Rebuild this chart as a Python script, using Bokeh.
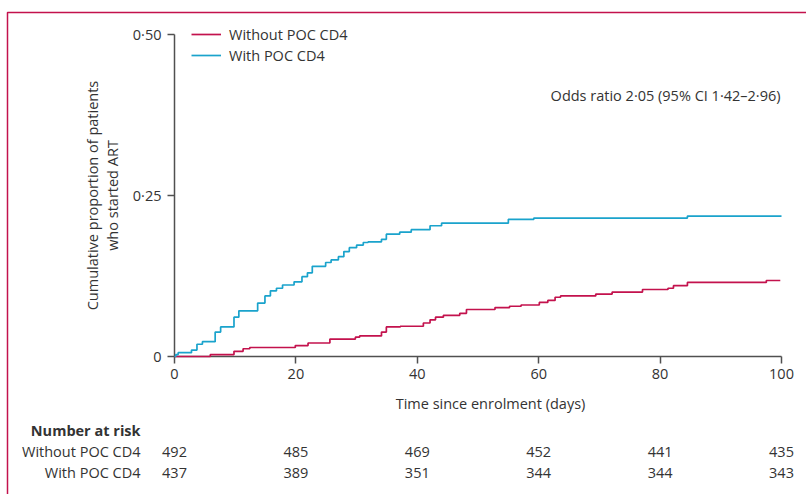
import math
from bokeh.plotting import figure
from bokeh.models import (ColumnDataSource, Label, LabelSet, Legend, LegendItem,
                          FixedTicker, CustomJSTickFormatter, BoxAnnotation, Range1d)
from bokeh.core.properties import value
from bokeh.embed import file_html
from bokeh.resources import INLINE

# ---------------- data ----------------
without_days = [0, 5.9, 9.8, 11.3, 12.4, 19.9, 22.0, 25.6, 29.8, 30.5, 34.1, 34.9, 37.2,
                41.0, 42.1, 43.0, 44.3, 47.0, 48.1, 52.8, 55.2, 57.1, 60.1, 61.5, 62.7,
                63.6, 69.4, 72.1, 77.1, 81.3, 82.2, 84.5, 97.5, 99.8]
without_prop = [0, 0.003, 0.008, 0.012, 0.014, 0.017, 0.021, 0.027, 0.030, 0.032, 0.038,
                0.046, 0.047, 0.052, 0.057, 0.061, 0.064, 0.067, 0.073, 0.076, 0.078,
                0.080, 0.084, 0.087, 0.092, 0.094, 0.097, 0.100, 0.104, 0.106, 0.110,
                0.115, 0.118, 0.118]

with_days = [0, 0.2, 0.6, 2.8, 3.7, 4.6, 6.7, 7.6, 9.8, 10.6, 13.7, 14.9, 15.8, 16.8,
             17.8, 19.7, 21.0, 21.9, 22.7, 24.9, 25.8, 27.0, 27.9, 28.8, 30.0, 31.1,
             31.9, 34.1, 34.9, 37.1, 39.0, 42.1, 44.0, 55.0, 59.2, 84.5, 100]
with_prop = [0, 0.003, 0.006, 0.010, 0.019, 0.023, 0.038, 0.046, 0.061, 0.071, 0.083,
             0.094, 0.102, 0.106, 0.111, 0.116, 0.124, 0.130, 0.140, 0.146, 0.150,
             0.155, 0.163, 0.169, 0.173, 0.177, 0.178, 0.182, 0.190, 0.193, 0.197,
             0.203, 0.207, 0.213, 0.215, 0.218, 0.218]

x_ticks = [0, 20, 40, 60, 80, 100]
y_ticks = [0, 0.25, 0.5]
risk_without = [492, 485, 469, 452, 441, 435]
risk_with = [437, 389, 351, 344, 344, 343]

series_names = ["Without POC CD4", "With POC CD4"]
annotation_text = "Odds ratio 2\u00b705 (95% CI 1\u00b742\u20132\u00b796)"
x_title = "Time since enrolment (days)"
y_title = ["Cumulative proportion of patients", "who started ART"]

# ---------------- layout / style ----------------
W, H = 806, 494
AX_X0, AX_X1 = 174, 781      # pixel position of day 0 / day 100
AX_Y0, AX_Y1 = 356, 34       # pixel position of 0 / 0.5
PXD = (AX_X1 - AX_X0) / 100.0
PXU = (AX_Y0 - AX_Y1) / 0.5

def dx(px):
    return (px - AX_X0) / PXD

def dy(py):
    return (AX_Y0 - py) / PXU

RED = "#c3124d"
BLUE = "#1aa3cc"
TXT = "#333333"
AX = "#505050"
FONT = "Open Sans"
FS = "14.5px"

p = figure(width=W, height=H, output_backend="svg", toolbar_location=None,
           x_range=Range1d(dx(0), dx(W)), y_range=Range1d(dy(H), dy(0)),
           min_border=0, min_border_left=0, min_border_right=0,
           min_border_top=0, min_border_bottom=0)
p.outline_line_color = None
p.xgrid.visible = False
p.ygrid.visible = False
p.background_fill_color = "white"
p.border_fill_color = "white"

# decorative frame (top and left rule)
p.add_layout(BoxAnnotation(left=dx(7), right=dx(W + 50), top=dy(12), bottom=dy(H + 50),
                           fill_alpha=0, line_color=RED, line_alpha=1.0, line_width=1.5))

r_without = p.step(without_days, without_prop, mode="after", line_color=RED, line_width=1.7)
r_with = p.step(with_days, with_prop, mode="after", line_color=BLUE, line_width=1.7)
r_without.level = "overlay"
r_with.level = "overlay"

# axes placed at data 0 and limited to the data span
p.xaxis.fixed_location = 0
p.yaxis.fixed_location = 0
p.xaxis.bounds = (0, 100)
p.yaxis.bounds = (0, 0.5)
for ax in (p.xaxis[0], p.yaxis[0]):
    ax.axis_line_color = AX
    ax.axis_line_width = 1.5
    ax.major_tick_line_color = AX
    ax.major_tick_line_width = 1.5
    ax.major_tick_out = 7
    ax.major_tick_in = 0
    ax.minor_tick_line_color = None
    ax.major_label_text_font = FONT
    ax.major_label_text_font_size = FS
    ax.major_label_text_color = TXT

p.xaxis.ticker = FixedTicker(ticks=x_ticks)
p.yaxis.ticker = FixedTicker(ticks=y_ticks)
p.yaxis.formatter = CustomJSTickFormatter(
    code="return tick == 0 ? '0' : tick.toFixed(2).replace('.', '\u00b7');")
p.xaxis.major_label_standoff = 5
p.yaxis.major_label_standoff = 6

# x-axis title
p.add_layout(Label(x=dx(490), y=dy(403), text=x_title, text_align="center",
                   text_baseline="middle", text_font=FONT, text_font_size=FS,
                   text_color=TXT))

# y-axis title (two lines)
for px, t in zip((92, 112), y_title):
    p.add_layout(Label(x=dx(px), y=0.25, text=t, angle=math.pi / 2, text_align="center",
                       text_baseline="middle", text_font=FONT, text_font_size=FS,
                       text_color=TXT))

# legend (location: bottom-left corner, pixels from frame bottom-left)
legend = Legend(items=[LegendItem(label=series_names[0], renderers=[r_without]),
                       LegendItem(label=series_names[1], renderers=[r_with])],
                location=(191, H - 24 - 41), padding=0, margin=0, spacing=1,
                glyph_width=30, glyph_height=20, label_height=20, label_standoff=8,
                label_text_font=FONT, label_text_font_size=FS, label_text_color=TXT,
                background_fill_alpha=0, border_line_alpha=0)
p.add_layout(legend)

# odds ratio
p.add_layout(Label(x=dx(780), y=dy(95), text=annotation_text, text_align="right",
                   text_baseline="middle", text_font=FONT, text_font_size=FS,
                   text_color=TXT))

# number at risk table
p.add_layout(Label(x=dx(140), y=dy(430), text="Number at risk", text_align="right",
                   text_baseline="middle", text_font=FONT, text_font_size=FS,
                   text_font_style="bold", text_color=TXT))
for py, name, vals in ((451, series_names[0], risk_without),
                       (472, series_names[1], risk_with)):
    p.add_layout(Label(x=dx(140), y=dy(py), text=name, text_align="right",
                       text_baseline="middle", text_font=FONT, text_font_size=FS,
                       text_color=TXT))
    src = ColumnDataSource(dict(x=x_ticks, y=[dy(py)] * len(x_ticks),
                                t=[str(v) for v in vals]))
    p.add_layout(LabelSet(x="x", y="y", text="t", source=src, text_align="center",
                          text_baseline="middle", text_font=value(FONT),
                          text_font_size=value(FS), text_color=TXT))

open("out.html", "w").write(file_html(p, INLINE))
